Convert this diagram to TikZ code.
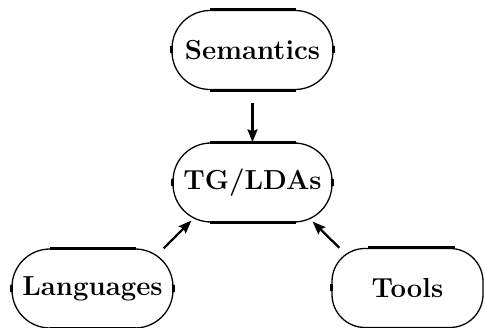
\documentclass[tikz,border=0pt]{standalone}
\usetikzlibrary{arrows.meta}
\begin{document}
\begin{tikzpicture}[x=1pt,y=-1pt,
  boxnode/.style={rectangle,rounded corners=38pt,draw,line width=1.3pt,
    minimum height=79pt,inner sep=0pt,
    font=\fontsize{27.5}{32}\selectfont\bfseries},
  thickedge/.style={line width=3pt},
  tick/.style={line width=2.6pt},
  arr/.style={line width=2.3pt,-{Stealth[length=13pt,width=10pt,inset=2pt]}}]
\useasboundingbox (0,0) rectangle (485,328);
\node[boxnode,minimum width=161pt] (sem) at (252.5,50) {Semantics};
\node[boxnode,minimum width=159pt] (tg) at (252.5,182.5) {TG/LDAs};
\node[boxnode,minimum width=161pt] (lang) at (92.5,288.5) {Languages};
\node[boxnode,minimum width=151pt,rounded corners=33pt] (tools) at (407.5,288) {Tools};
% thick straight edges
\foreach \n in {sem,tg,lang}{
  \draw[thickedge] ([xshift=-43pt]\n.north) -- ([xshift=43pt]\n.north);
  \draw[thickedge] ([xshift=-43pt]\n.south) -- ([xshift=43pt]\n.south);
  \draw[tick] ([yshift=-3.5pt]\n.west) -- ([yshift=3.5pt]\n.west);
  \draw[tick] ([yshift=-3.5pt]\n.east) -- ([yshift=3.5pt]\n.east);
}
\draw[thickedge] ([xshift=-40pt]tools.north) -- ([xshift=47pt]tools.north);
\draw[thickedge] ([xshift=-40pt]tools.south) -- ([xshift=47pt]tools.south);
\draw[tick] ([yshift=-3.5pt]tools.west) -- ([yshift=3.5pt]tools.west);
% connectors
\draw[arr] ([yshift=-13pt]sem.south) -- (tg.north);
\draw[arr] ([xshift=-10pt]lang.north east) -- ([xshift=19pt,yshift=2pt]tg.south west);
\draw[arr] ([xshift=8pt]tools.north west) -- ([xshift=-20pt,yshift=1pt]tg.south east);
\end{tikzpicture}
\end{document}
